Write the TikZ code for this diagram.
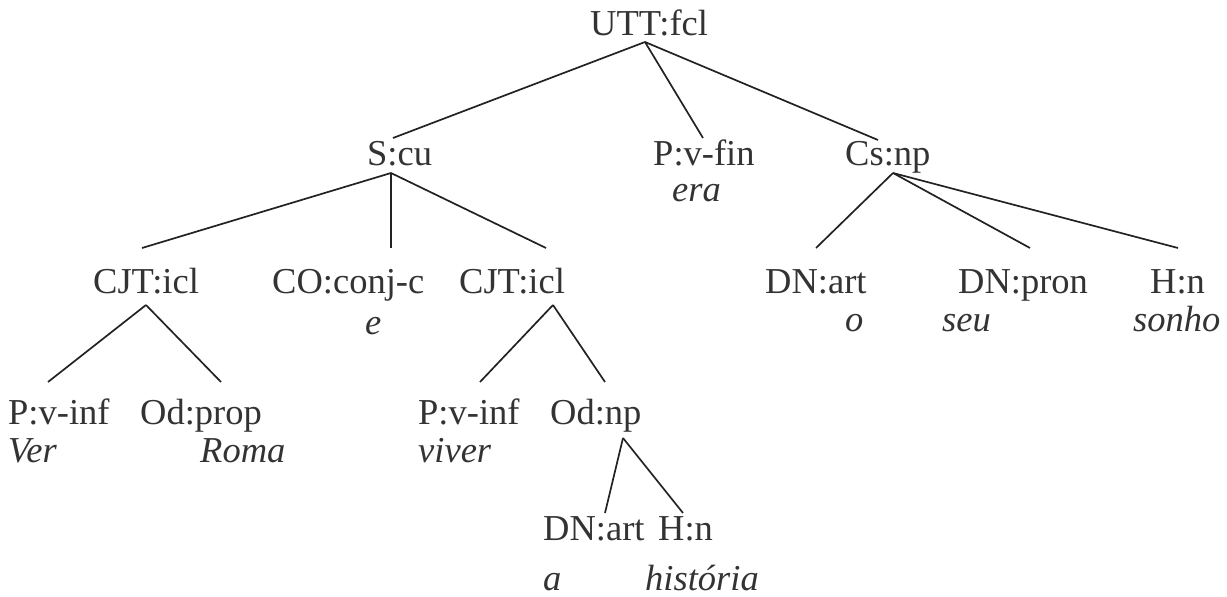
\documentclass[tikz,border=0pt]{standalone}
\usepackage{fontspec}
\setmainfont{Liberation Serif}
\definecolor{txt}{HTML}{333333}
\definecolor{ln}{HTML}{222222}
\begin{document}
\begin{tikzpicture}[x=1pt,y=-1pt,
  lab/.style={anchor=base west,inner sep=0pt,text=txt,font=\fontsize{36.5}{40}\selectfont},
  wrd/.style={lab,font=\fontsize{36.5}{40}\selectfont\itshape},
  edge/.style={draw=ln,line width=1.7pt}]
\useasboundingbox (0,0) rectangle (1227,597);
% labels
\node[lab] (utt) at (590,35) {UTT:fcl};
\node[lab] (scu) at (367,165) {S:cu};
\node[lab] (pvfin) at (653,165) {P:v-fin};
\node[wrd] (era) at (672,201) {era};
\node[lab] (csnp) at (845,165) {Cs:np};
\node[lab] (cjt1) at (93,293) {CJT:icl};
\node[lab] (co) at (272,293) {CO:conj-c};
\node[wrd] (e) at (365,334) {e};
\node[lab] (cjt2) at (459,293) {CJT:icl};
\node[lab] (dnart1) at (765,293) {DN:art};
\node[wrd] (o) at (845,331) {o};
\node[lab] (dnpron) at (958,293) {DN:pron};
\node[wrd] (seu) at (942,331) {seu};
\node[lab] (hn1) at (1150,293) {H:n};
\node[wrd] (sonho) at (1133,331) {sonho};
\node[lab] (pvinf1) at (8,424) {P:v-inf};
\node[wrd] (ver) at (8,462) {Ver};
\node[lab] (odprop) at (140,424) {Od:prop};
\node[wrd] (roma) at (200,462) {Roma};
\node[lab] (pvinf2) at (418,424) {P:v-inf};
\node[wrd] (viver) at (418,462) {viver};
\node[lab] (odnp) at (550,424) {Od:np};
\node[lab] (dnart2) at (543,540) {DN:art};
\node[wrd] (a) at (543,590) {a};
\node[lab] (hn2) at (658,540) {H:n};
\node[wrd] (hist) at (645,590) {história};
% connector end points
\coordinate (utt-b) at (645,42);
\coordinate (scu-t) at (393,138);
\coordinate (pvfin-t) at (703,138);
\coordinate (csnp-t) at (878,140);
\coordinate (scu-b) at (391,173);
\coordinate (cjt1-t) at (142,248);
\coordinate (co-t) at (391,248);
\coordinate (cjt2-t) at (546,248);
\coordinate (csnp-b) at (893,173);
\coordinate (dnart1-t) at (816,248);
\coordinate (dnpron-t) at (1030,248);
\coordinate (hn1-t) at (1178,248);
\coordinate (cjt1-b) at (146,305);
\coordinate (pvinf1-t) at (48,382);
\coordinate (odprop-t) at (221,382);
\coordinate (cjt2-b) at (553,305);
\coordinate (pvinf2-t) at (480,382);
\coordinate (odnp-t) at (605,382);
\coordinate (odnp-b) at (623,438);
\coordinate (dnart2-t) at (605,513);
\coordinate (hn2-t) at (683,513);
% connectors
\draw[edge] (utt-b) -- (scu-t);
\draw[edge] (utt-b) -- (pvfin-t);
\draw[edge] (utt-b) -- (csnp-t);
\draw[edge] (scu-b) -- (cjt1-t);
\draw[edge] (scu-b) -- (co-t);
\draw[edge] (scu-b) -- (cjt2-t);
\draw[edge] (csnp-b) -- (dnart1-t);
\draw[edge] (csnp-b) -- (dnpron-t);
\draw[edge] (csnp-b) -- (hn1-t);
\draw[edge] (cjt1-b) -- (pvinf1-t);
\draw[edge] (cjt1-b) -- (odprop-t);
\draw[edge] (cjt2-b) -- (pvinf2-t);
\draw[edge] (cjt2-b) -- (odnp-t);
\draw[edge] (odnp-b) -- (dnart2-t);
\draw[edge] (odnp-b) -- (hn2-t);
\end{tikzpicture}
\end{document}
